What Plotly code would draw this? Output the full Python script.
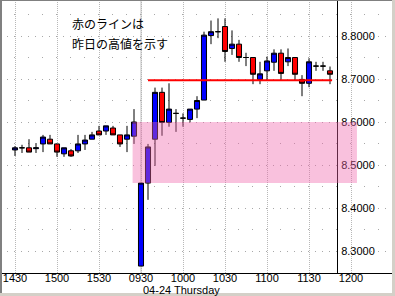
import plotly.graph_objects as go

# ---- data (bar index -> 5-minute bars; day 1 from 14:30, day 2 from 09:30) ----
bar_index = list(range(46))
opens = [8.535, 8.540, 8.540, 8.538, 8.549, 8.560, 8.549, 8.526, 8.533, 8.533,
         8.549, 8.560, 8.579, 8.579, 8.586, 8.570, 8.560, 8.567,
         8.265, 8.458, 8.560, 8.669, 8.599, 8.620, 8.609, 8.606, 8.630, 8.651,
         8.801, 8.810, 8.822, 8.771, 8.781, 8.750, 8.750, 8.699, 8.719, 8.739,
         8.760, 8.740, 8.750, 8.699, 8.690, 8.730, 8.730, 8.719]
highs = [8.544, 8.547, 8.560, 8.551, 8.570, 8.570, 8.549, 8.540, 8.537, 8.570,
         8.570, 8.577, 8.591, 8.591, 8.591, 8.570, 8.591, 8.630,
         8.458, 8.549, 8.680, 8.680, 8.690, 8.630, 8.620, 8.630, 8.660, 8.810,
         8.836, 8.841, 8.841, 8.813, 8.791, 8.761, 8.750, 8.740, 8.752, 8.769,
         8.769, 8.771, 8.750, 8.709, 8.748, 8.740, 8.740, 8.729]
lows = [8.521, 8.528, 8.530, 8.528, 8.530, 8.549, 8.519, 8.519, 8.519, 8.528,
        8.535, 8.560, 8.570, 8.570, 8.570, 8.542, 8.530, 8.549,
        8.265, 8.419, 8.498, 8.568, 8.589, 8.577, 8.589, 8.599, 8.609, 8.651,
        8.781, 8.795, 8.740, 8.756, 8.740, 8.730, 8.688, 8.688, 8.698, 8.719,
        8.698, 8.730, 8.697, 8.660, 8.681, 8.719, 8.719, 8.688]
closes = [8.540, 8.540, 8.530, 8.540, 8.565, 8.549, 8.530, 8.540, 8.521, 8.549,
          8.558, 8.570, 8.570, 8.591, 8.570, 8.549, 8.570, 8.600,
          8.458, 8.542, 8.669, 8.599, 8.630, 8.620, 8.609, 8.630, 8.650, 8.802,
          8.810, 8.810, 8.764, 8.781, 8.750, 8.750, 8.711, 8.712, 8.742, 8.760,
          8.713, 8.750, 8.711, 8.690, 8.740, 8.730, 8.730, 8.711]

tick_positions = [0, 6, 12, 18, 24, 30, 36, 42, 48]
tick_labels = ["1430", "1500", "1530", "0930", "1000", "1030", "1100", "1130", "1200"]
y_ticks = [8.3, 8.4, 8.5, 8.6, 8.7, 8.8]

day_break_index = 18
yesterday_high = 8.697
line_start, line_end = 19, 45.3
zone_low, zone_high = 8.458, 8.600
zone_start, zone_end = 16.8, 48.85

note_lines = ["赤のラインは", "昨日の高値を示す"]
date_label = "04-24 Thursday"

# ---- figure ----
W, H = 395, 296
ML, MR, MT, MB = 0, 3, 0, 23
PW, PH = W - ML - MR, H - MT - MB
px_per_bar = 7.0
x0_px = 15.0
xr = [(0 - x0_px) / px_per_bar, (PW - x0_px) / px_per_bar]
yr = [8.7 - (PH - 79) / 430.0, 8.7 + 79 / 430.0]
axis_px = 337

fig = go.Figure()
fig.add_trace(go.Candlestick(
    x=bar_index, open=opens, high=highs, low=lows, close=closes,
    increasing=dict(line=dict(color="black", width=1), fillcolor="#0000ff"),
    decreasing=dict(line=dict(color="black", width=1), fillcolor="#ff0000"),
    whiskerwidth=0, hoverinfo="skip", showlegend=False,
))

shapes = []
# cover grid beyond the price axis
shapes.append(dict(type="rect", xref="paper", yref="paper", x0=axis_px / PW, x1=1,
                   y0=0, y1=1, fillcolor="white", line=dict(width=0), layer="between"))
# day separator
shapes.append(dict(type="line", xref="x", yref="paper", x0=day_break_index, x1=day_break_index,
                   y0=0, y1=1, line=dict(color="#c0c0c0", width=1), layer="between"))
# yesterday's high line
shapes.append(dict(type="line", xref="x", yref="y", x0=line_start, x1=line_end,
                   y0=yesterday_high, y1=yesterday_high,
                   line=dict(color="#ff0000", width=2), layer="above"))
# pink zone
shapes.append(dict(type="rect", xref="x", yref="y", x0=zone_start, x1=zone_end,
                   y0=zone_low, y1=zone_high, fillcolor="rgba(240,100,170,0.4)",
                   line=dict(width=0), layer="above"))
# window frame
fx = lambda p: p / PW
fy = lambda p: 1 - p / PH
shapes.append(dict(type="rect", xref="paper", yref="paper", x0=fx(0), x1=fx(W), y0=fy(293), y1=fy(H),
                   fillcolor="#d4d0c8", line=dict(width=0), layer="above"))
shapes.append(dict(type="rect", xref="paper", yref="paper", x0=fx(392), x1=fx(W), y0=fy(0), y1=fy(H),
                   fillcolor="#d4d0c8", line=dict(width=0), layer="above"))
shapes.append(dict(type="rect", xref="paper", yref="paper", x0=fx(0), x1=fx(392), y0=fy(0), y1=fy(1),
                   fillcolor="#808080", line=dict(width=0), layer="above"))
shapes.append(dict(type="rect", xref="paper", yref="paper", x0=fx(0), x1=fx(2), y0=fy(0), y1=fy(293),
                   fillcolor="#808080", line=dict(width=0), layer="above"))

annotations = []
for i, t in enumerate(note_lines):
    annotations.append(dict(text=t, xref="paper", yref="paper", x=70 / PW, y=fy(23 + 21 * i),
                            xanchor="left", yanchor="middle", showarrow=False,
                            font=dict(family="Noto Sans CJK JP", size=12, color="black")))
annotations.append(dict(text=date_label, xref="paper", yref="paper", x=141 / PW, y=fy(289.5),
                        xanchor="left", yanchor="middle", showarrow=False,
                        font=dict(family="Liberation Sans, Arial", size=11, color="black")))

fig.update_layout(
    width=W, height=H, margin=dict(l=ML, r=MR, t=MT, b=MB),
    paper_bgcolor="white", plot_bgcolor="white",
    boxgap=0.28, boxgroupgap=0,
    shapes=shapes, annotations=annotations,
    font=dict(family="Liberation Sans, Arial", size=11, color="black"),
    xaxis=dict(range=xr, rangeslider=dict(visible=False), tickmode="array",
               tickvals=tick_positions, ticktext=tick_labels, ticks="",
               showgrid=True, gridcolor="#b8b8b8", griddash="1px,1px", gridwidth=1,
               zeroline=False, showline=True, linecolor="black", linewidth=1,
               tickfont=dict(size=11, color="black"), ticklabelstandoff=-5),
    yaxis=dict(range=yr, side="right", anchor="free", position=axis_px / PW,
               tickmode="array", tickvals=y_ticks, tickformat=".4f", ticks="",
               showgrid=True, gridcolor="#a8a8a8", griddash="1px,6px", gridwidth=1,
               minor=dict(dtick=0.05, tick0=8.3, showgrid=True, gridcolor="#a8a8a8",
                          griddash="1px,13px", gridwidth=1),
               zeroline=False, showline=True, linecolor="black", linewidth=1,
               tickfont=dict(size=11, color="black"), ticklabelstandoff=1),
)

fig.write_html("out.html")
